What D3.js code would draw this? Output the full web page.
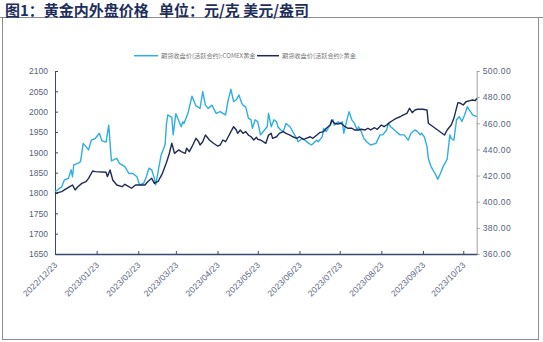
<!DOCTYPE html>
<html><head><meta charset="utf-8">
<script src="https://cdn.jsdelivr.net/npm/d3@7/dist/d3.min.js"></script>
<style>body{margin:0;background:#fff}svg{display:block}</style>
</head><body>
<svg id="c" width="543" height="342"></svg>
<script>
const title = "图1：黄金内外盘价格\u00a0\u00a0\u00a0单位：元/克 美元/盎司";
const seriesNames = ["期货收盘价(活跃合约):COMEX黄金", "期货收盘价(活跃合约):黄金"];
const xTickLabels = ["2022/12/23","2023/01/23","2023/02/23","2023/03/23","2023/04/23","2023/05/23","2023/06/23","2023/07/23","2023/08/23","2023/09/23","2023/10/23"];
const leftTicks = [1650,1700,1750,1800,1850,1900,1950,2000,2050,2100];
const rightTicks = [360,380,400,420,440,460,480,500];

const comexDates = ["2022-12-23","2022-12-28","2022-12-29","2022-12-30","2023-01-02","2023-01-04","2023-01-05","2023-01-06","2023-01-09","2023-01-11","2023-01-13","2023-01-17","2023-01-19","2023-01-22","2023-01-25","2023-01-27","2023-01-30","2023-02-01","2023-02-03","2023-02-07","2023-02-09","2023-02-13","2023-02-16","2023-02-19","2023-02-22","2023-02-24","2023-02-27","2023-03-01","2023-03-03","2023-03-05","2023-03-07","2023-03-08","2023-03-10","2023-03-12","2023-03-14","2023-03-15","2023-03-16","2023-03-17","2023-03-20","2023-03-21","2023-03-23","2023-03-27","2023-03-28","2023-03-29","2023-04-01","2023-04-04","2023-04-07","2023-04-10","2023-04-12","2023-04-14","2023-04-16","2023-04-19","2023-04-20","2023-04-22","2023-04-25","2023-04-27","2023-04-29","2023-05-01","2023-05-03","2023-05-05","2023-05-07","2023-05-09","2023-05-11","2023-05-12","2023-05-14","2023-05-16","2023-05-18","2023-05-19","2023-05-21","2023-05-23","2023-05-25","2023-05-28","2023-05-30","2023-05-31","2023-06-02","2023-06-04","2023-06-06","2023-06-07","2023-06-09","2023-06-11","2023-06-13","2023-06-16","2023-06-18","2023-06-21","2023-06-22","2023-06-25","2023-06-27","2023-06-30","2023-07-02","2023-07-04","2023-07-06","2023-07-07","2023-07-10","2023-07-11","2023-07-13","2023-07-15","2023-07-17","2023-07-18","2023-07-19","2023-07-22","2023-07-23","2023-07-25","2023-07-26","2023-07-28","2023-07-30","2023-08-01","2023-08-03","2023-08-05","2023-08-06","2023-08-08","2023-08-10","2023-08-12","2023-08-15","2023-08-19","2023-08-22","2023-08-24","2023-08-27","2023-08-28","2023-08-30","2023-09-03","2023-09-06","2023-09-09","2023-09-12","2023-09-14","2023-09-17","2023-09-19","2023-09-21","2023-09-22","2023-09-24","2023-09-26","2023-09-27","2023-09-29","2023-10-02","2023-10-04","2023-10-06","2023-10-08","2023-10-10","2023-10-11","2023-10-13","2023-10-14","2023-10-16","2023-10-17","2023-10-18","2023-10-20","2023-10-22","2023-10-24","2023-10-26","2023-10-28","2023-10-30","2023-11-02"];
const comexValues = [1803,1815,1824,1832,1836,1857,1840,1869,1873,1877,1922,1906,1930,1934,1947,1928,1925,1967,1879,1885,1873,1865,1848,1848,1840,1820,1824,1840,1861,1857,1836,1820,1857,1893,1910,1920,1970,1992,1986,1943,1995,1963,1975,1971,1996,2038,2014,2008,2049,2016,2008,2016,2008,1996,2000,1996,1992,2029,2055,2025,2029,2041,2021,2016,2012,1984,1980,1959,1980,1975,1943,1955,1963,1996,1963,1980,1975,1963,1955,1951,1971,1963,1951,1934,1926,1934,1930,1922,1918,1924,1930,1926,1938,1959,1951,1963,1975,1980,1967,1975,1971,1975,1947,1975,2000,1980,1971,1955,1963,1951,1934,1926,1918,1922,1943,1943,1955,1971,1963,1951,1943,1943,1930,1947,1955,1951,1943,1947,1938,1914,1885,1865,1848,1834,1848,1865,1877,1883,1943,1934,1930,1955,1980,1988,1976,1992,2012,2002,1992,1988];

const shfeDates = ["2022-12-23","2022-12-28","2022-12-30","2023-01-03","2023-01-05","2023-01-07","2023-01-09","2023-01-12","2023-01-15","2023-01-17","2023-01-20","2023-01-22","2023-01-30","2023-01-31","2023-02-02","2023-02-04","2023-02-07","2023-02-11","2023-02-13","2023-02-16","2023-02-18","2023-02-21","2023-02-24","2023-02-28","2023-03-02","2023-03-05","2023-03-07","2023-03-10","2023-03-11","2023-03-13","2023-03-16","2023-03-18","2023-03-20","2023-03-22","2023-03-25","2023-03-27","2023-03-30","2023-03-31","2023-04-02","2023-04-04","2023-04-07","2023-04-09","2023-04-10","2023-04-12","2023-04-14","2023-04-17","2023-04-20","2023-04-23","2023-04-25","2023-04-27","2023-04-29","2023-05-01","2023-05-03","2023-05-05","2023-05-07","2023-05-08","2023-05-10","2023-05-12","2023-05-14","2023-05-16","2023-05-18","2023-05-20","2023-05-22","2023-05-23","2023-05-25","2023-05-27","2023-05-29","2023-05-31","2023-06-02","2023-06-03","2023-06-06","2023-06-08","2023-06-11","2023-06-13","2023-06-16","2023-06-18","2023-06-21","2023-06-23","2023-06-26","2023-06-28","2023-07-01","2023-07-03","2023-07-06","2023-07-08","2023-07-11","2023-07-13","2023-07-16","2023-07-17","2023-07-19","2023-07-22","2023-07-24","2023-07-27","2023-07-29","2023-08-01","2023-08-03","2023-08-06","2023-08-08","2023-08-11","2023-08-13","2023-08-15","2023-08-18","2023-08-20","2023-08-23","2023-08-25","2023-08-27","2023-08-29","2023-09-01","2023-09-03","2023-09-06","2023-09-08","2023-09-11","2023-09-13","2023-09-15","2023-09-17","2023-09-19","2023-09-23","2023-09-26","2023-09-27","2023-10-09","2023-10-11","2023-10-14","2023-10-16","2023-10-19","2023-10-21","2023-10-23","2023-10-25","2023-10-28","2023-10-30","2023-11-01","2023-11-02"];
const shfeValues = [406.4,407.7,409,411.5,412.8,409,411.5,414,415.3,417.9,423.5,423,422.5,419.2,424.3,416.6,412.8,411.5,413.3,411.5,410.3,412.8,412.8,412.8,415.3,417.9,414,415.8,417.9,421.7,430,436.5,444.7,437,439.6,438.3,437,440.9,438.3,442.1,448.5,445.9,443.4,445.9,451,447.2,444.7,442.6,443.4,447.2,445.9,449.7,453.6,457.4,454.9,452.3,454.9,452.3,453.6,451,449.7,447.2,449.3,447.7,447.2,445.9,444.7,451,452.3,448.5,449.7,452.3,453.6,452.3,451,449.7,448.5,449.7,447.7,448.5,449.7,448.5,451,452.8,453.6,456.2,458.7,462.5,460,459.5,460,457.4,456.2,456.2,454.9,454.9,455.4,454.9,456.2,454.9,456.6,455.4,458.7,457.4,458.7,460.5,462.5,463.8,465,466.3,467.6,471.5,468.1,470.2,470.7,470.7,470.2,460,451,454.9,458.7,463.8,475.8,475.3,474,476.5,477.3,477.8,477.3,479.1];

const parse = d3.timeParse("%Y-%m-%d");
const parseTick = d3.timeParse("%Y/%m/%d");
const comex = comexDates.map((d,i)=>({date:parse(d), v:comexValues[i]}));
const shfe = shfeDates.map((d,i)=>({date:parse(d), v:shfeValues[i]}));
const tickDates = xTickLabels.map(parseTick);

const svg = d3.select("#c");
const L = 55, R = 476.7, T = 71, B = 254;

const x = d3.scaleTime().domain([parse("2022-12-23"), parse("2023-11-02")]).range([L, R]);
const yL = d3.scaleLinear().domain([1650, 2100]).range([B, T]);
const yR = d3.scaleLinear().domain([360, 500]).range([B, T]);

// frame
svg.append("rect").attr("x",2.5).attr("y",17.5).attr("width",536).attr("height",322)
  .attr("fill","none").attr("stroke","#8c8c8c").attr("stroke-width",1);
svg.append("line").attr("x1",0).attr("x2",543).attr("y1",17.5).attr("y2",17.5)
  .attr("stroke","#8c8c8c").attr("stroke-width",1);

// title
svg.append("text").attr("x",5).attr("y",15.5).text(title)
  .attr("font-family","'Noto Sans CJK SC', sans-serif").attr("font-weight","bold")
  .attr("font-size",15).attr("fill","#1f2f5c");

// legend
const legendFont = "'Noto Sans CJK SC', sans-serif";
const legend = [
  {name: seriesNames[0], color:"#2eaee3", x1:134, x2:158, tx:161},
  {name: seriesNames[1], color:"#1f2a55", x1:257, x2:279, tx:282}
];
legend.forEach(l=>{
  svg.append("line").attr("x1",l.x1).attr("x2",l.x2).attr("y1",55.7).attr("y2",55.7)
    .attr("stroke",l.color).attr("stroke-width",1.5);
  svg.append("text").attr("x",l.tx).attr("y",55.7).attr("dy","0.35em").text(l.name)
    .attr("font-family",legendFont).attr("font-size",6.2).attr("fill","#777");
});

const labelColor = "#56627e";
const numFont = "'Liberation Sans', Arial, sans-serif";

// left axis
const gL = svg.append("g").attr("transform",`translate(${L},0)`)
  .call(d3.axisLeft(yL).tickValues(leftTicks).tickSize(-3).tickSizeOuter(0).tickPadding(7).tickFormat(d3.format("d")));
gL.select(".domain").attr("stroke","#3a4870");
gL.selectAll(".tick line").attr("stroke","#3a4870");
gL.selectAll("text").attr("font-family",numFont).attr("font-size",8.5).attr("fill",labelColor);

// right axis
const gR = svg.append("g").attr("transform",`translate(${R},0)`)
  .call(d3.axisRight(yR).tickValues(rightTicks).tickSize(3).tickSizeOuter(0).tickPadding(3).tickFormat(d3.format(".2f")));
gR.select(".domain").attr("stroke","#a0a0a0");
gR.selectAll(".tick line").attr("stroke","#a0a0a0");
gR.selectAll("text").attr("font-family",numFont).attr("font-size",8.5).attr("fill",labelColor).attr("letter-spacing",0.4);

// bottom axis
const gB = svg.append("g").attr("transform",`translate(0,${B})`)
  .call(d3.axisBottom(x).tickValues(tickDates).tickSize(-3).tickSizeOuter(0).tickFormat((d,i)=>xTickLabels[i]));
gB.select(".domain").attr("stroke","#3a4870").attr("stroke-width",1.4);
gB.selectAll(".tick line").attr("stroke","#3a4870");
gB.selectAll(".tick text")
  .attr("font-family",numFont).attr("font-size",8.5).attr("fill",labelColor).attr("letter-spacing",0.2)
  .attr("text-anchor","end").attr("y",0).attr("dy",0)
  .attr("transform","translate(2.5,11.5) rotate(-45)");

// lines
const lineL = d3.line().x(d=>x(d.date)).y(d=>yL(d.v));
const lineR = d3.line().x(d=>x(d.date)).y(d=>yR(d.v));
svg.append("path").datum(comex).attr("d",lineL).attr("fill","none")
  .attr("stroke","#2eaee3").attr("stroke-width",1.4).attr("stroke-linejoin","round");
svg.append("path").datum(shfe).attr("d",lineR).attr("fill","none")
  .attr("stroke","#1f2a55").attr("stroke-width",1.4).attr("stroke-linejoin","round");
</script>
</body></html>
